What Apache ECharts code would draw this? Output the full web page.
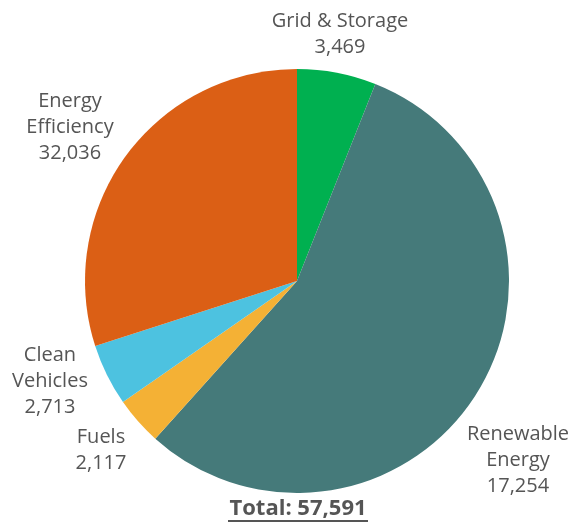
<!DOCTYPE html>
<html>
<head>
<meta charset="utf-8">
<script src="https://cdn.jsdelivr.net/npm/echarts@6/dist/echarts.min.js"></script>
<style>
  html, body { margin: 0; padding: 0; background: #fff; }
  #chart { width: 574px; height: 523px; }
</style>
</head>
<body>
<div id="chart"></div>
<script>
// slices clockwise from 12 o'clock
const names = ["Grid & Storage", "Renewable\nEnergy", "Fuels", "Clean\nVehicles", "Energy\nEfficiency"];
// slice sizes as drawn in the picture
const sliceValues = [3469, 32036, 2117, 2713, 17254];
// numbers printed in the labels
const labelValues = [3469, 17254, 2117, 2713, 32036];
const colors = ["#00b050", "#457a7a", "#f4b135", "#4dc2e0", "#db5f15"];
const totalText = "Total: 57,591";

// label anchor points (centre of each text block)
const labelPos = [[340, 34], [518, 460], [101, 450], [50, 381], [70, 127]];

const fontFamily = "'Open Sans', 'Noto Sans', sans-serif";

const chart = echarts.init(document.getElementById("chart"));
chart.setOption({
  animation: false,
  series: [
    {
      type: "pie",
      center: [297, 281],
      radius: 212,
      startAngle: 90,
      clockwise: true,
      data: names.map((n, i) => ({
        name: n,
        value: sliceValues[i],
        itemStyle: { color: colors[i] }
      })),
      label: {
        show: true,
        position: "outside",
        overflow: "none",
        color: "#555555",
        fontFamily: fontFamily,
        fontSize: 20,
        lineHeight: 26,
        align: "center",
        formatter: p => p.name + "\n" + labelValues[p.dataIndex].toLocaleString("en-US")
      },
      labelLine: { show: false },
      labelLayout: p => ({
        x: labelPos[p.dataIndex][0],
        y: labelPos[p.dataIndex][1],
        align: "center",
        verticalAlign: "middle"
      })
    }
  ],
  graphic: [
    {
      type: "text",
      x: 298,
      y: 509,
      style: {
        text: totalText,
        fill: "#555555",
        font: "bold 22px " + fontFamily,
        align: "center",
        verticalAlign: "middle"
      }
    },
    {
      type: "line",
      shape: { x1: 228, y1: 521, x2: 368, y2: 521 },
      style: { stroke: "#555555", lineWidth: 2 }
    }
  ]
});
</script>
</body>
</html>
